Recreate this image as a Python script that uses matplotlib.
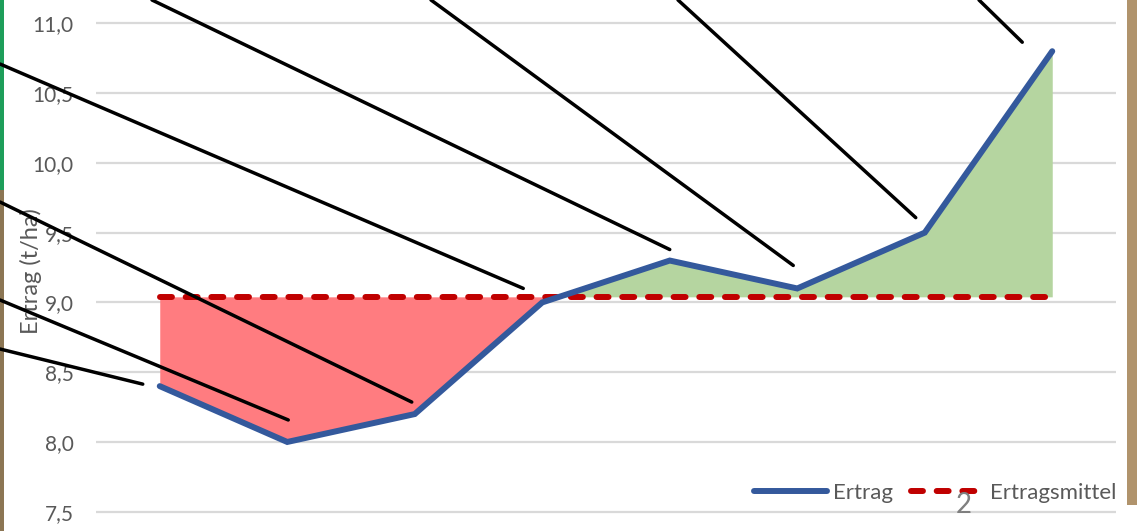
import numpy as np
import matplotlib
matplotlib.use("Agg")
import matplotlib.pyplot as plt
from matplotlib.patches import ConnectionPatch, Rectangle
from matplotlib.transforms import offset_copy

# data
jahre = np.arange(8)
ertrag = [8.4, 8.0, 8.2, 9.0, 9.3, 9.1, 9.5, 10.8]
ertragsmittel = 9.04
yticks = [7.5, 8.0, 8.5, 9.0, 9.5, 10.0, 10.5, 11.0]
ytick_labels = ["7,5", "8,0", "8,5", "9,0", "9,5", "10,0", "10,5", "11,0"]

# callout leader lines: start on the slide edge (pixels), end offset from the point (pixels)
callout_start = [(0, 349), (0, 300), (0, 202), (0, 64), (152, 0), (431, 0), (678, 0), (979, 0)]
callout_offset = [(-17, 2), (1, 22), (-3, 12), (-19, 14), (0, 11), (-4, 23), (-9, 15), (-30, 9)]

W, H = 1137, 531
plt.rcParams['font.family'] = ['Lato', 'DejaVu Sans']

fig = plt.figure(figsize=(W / 100, H / 100), dpi=100)
ax = fig.add_axes([96 / W, 0, 1020 / W, 1])

mittel = np.full(len(ertrag), ertragsmittel)
y = np.array(ertrag)

ax.fill_between(jahre, y, mittel, where=y <= mittel, interpolate=True,
                color='#FF7C80', lw=0, zorder=2)
ax.fill_between(jahre, y, mittel, where=y >= mittel, interpolate=True,
                color='#B5D5A0', lw=0, zorder=2)

ax.plot(jahre, mittel, color='#C00000', lw=4.3, dashes=(2.0, 2.3),
        dash_capstyle='round', label='Ertragsmittel', zorder=3)
ax.plot(jahre, ertrag, color='#34599C', lw=4.3, solid_capstyle='round',
        solid_joinstyle='miter', label='Ertrag', zorder=4)

ax.set_xlim(-0.5, 7.5)
ax.set_ylim(7.362, 11.167)
ax.set_yticks(yticks)
ax.set_yticklabels(ytick_labels)
ax.set_xticks([])
ax.tick_params(axis='y', length=0, pad=16, labelsize=15, labelcolor='#595959')
ax.grid(axis='y', color='#D9D9D9', lw=1.6, zorder=0)
for s in ax.spines.values():
    s.set_visible(False)

ax.set_ylabel('Ertrag (t/ha)', fontsize=17, color='#595959')
ax.yaxis.set_label_coords(-0.053, 0.49)

handles, labels = ax.get_legend_handles_labels()
leg = ax.legend(handles[::-1], labels[::-1], loc='center right', bbox_to_anchor=(1.0, 0.072),
                ncol=2, frameon=False, fontsize=16, handlelength=3.3,
                handletextpad=0.25, columnspacing=0.8, borderpad=0, borderaxespad=0)
for t in leg.get_texts():
    t.set_color('#595959')

# leader lines from the off-screen labels
for (sx, sy), (dx, dy), i, v in zip(callout_start, callout_offset, jahre, ertrag):
    tr = offset_copy(ax.transData, fig=fig, x=dx, y=dy, units='dots')
    con = ConnectionPatch(xyA=(sx / W, 1 - sy / H), coordsA=fig.transFigure,
                          xyB=(i, v), coordsB=tr, arrowstyle='-',
                          color='black', lw=2.5, shrinkA=0, shrinkB=0, zorder=6)
    fig.add_artist(con)

# slide number overlapping the legend
fig.text(964 / W, 1 - 505 / H, '2', fontsize=20, color='#7F7F7F', ha='center', va='center')

# bits of the slide background at the edges
fig.add_artist(Rectangle((0, 1 - 190 / H), 4 / W, 190 / H, transform=fig.transFigure,
                         color='#1E9E5A', lw=0, zorder=0))
fig.add_artist(Rectangle((0, 0), 4 / W, 1 - 190 / H, transform=fig.transFigure,
                         color='#8C7654', lw=0, zorder=0))
fig.add_artist(Rectangle((1127 / W, 26 / H), 10 / W, 1 - 26 / H, transform=fig.transFigure,
                         color='#B0936C', lw=0, zorder=0))

fig.savefig('out.png', dpi=100)
